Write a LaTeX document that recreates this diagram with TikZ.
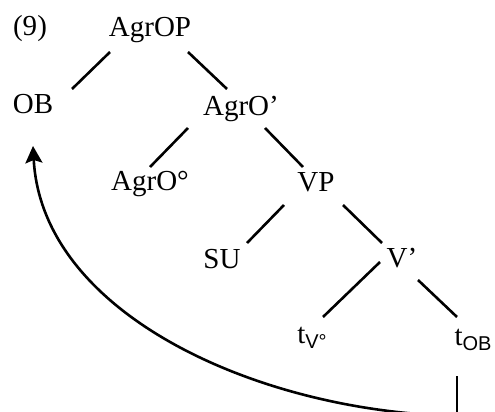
\documentclass[tikz,border=0pt]{standalone}
\usepackage{fontspec}
\setmainfont{Liberation Serif}
\setsansfont{Liberation Sans}
\usetikzlibrary{arrows.meta, calc}
\newcommand{\tsub}[1]{\raisebox{-5pt}{\sffamily\fontsize{20}{20}\selectfont #1}}

\begin{document}
\begin{tikzpicture}[
  x=1pt, y=-1pt,
  lbl/.style={inner sep=0pt, anchor=base, font=\fontsize{29}{31}\selectfont},
  branch/.style={line width=2.6pt},
  move/.style={-{Stealth[length=17pt,width=17pt,inset=3pt]}, line width=2.6pt}
]
\useasboundingbox (0,0) rectangle (495,412);
% tree labels
\node[lbl] (ex) at (30,36) {(9)};
\node[lbl] (agrop) at (150,37) {AgrOP};
\node[lbl] (ob) at (33,113) {OB};
\node[lbl] (agrobar) at (241,115) {AgrO’};
\node[lbl] (agrohead) at (150,190) {AgrO°};
\node[lbl] (vp) at (316,191) {VP};
\node[lbl] (su) at (222,268) {SU};
\node[lbl] (vbar) at (402,267) {V’};
\node[lbl] (tv) at (312,343) {t\tsub{V°}};
\node[lbl] (tob) at (473,345) {t\tsub{OB}};
\coordinate (tbot) at ($(tob.base)+(-16,71)$);
% branches
\draw[branch] ($(agrop.base)+(-40,15)$) -- ($(ob.base)+(39,-24)$);
\draw[branch] ($(agrop.base)+(38,15)$) -- ($(agrobar.base)+(-14,-26)$);
\draw[branch] ($(agrobar.base)+(-53,13)$) -- ($(agrohead.base)+(0,-23)$);
\draw[branch] ($(agrobar.base)+(24,13)$) -- ($(vp.base)+(-13,-24)$);
\draw[branch] ($(vp.base)+(-32,14)$) -- ($(su.base)+(25,-25)$);
\draw[branch] ($(vp.base)+(27,14)$) -- ($(vbar.base)+(-20,-24)$);
\draw[branch] ($(vbar.base)+(-22,-5)$) -- ($(tv.base)+(11,-26)$);
\draw[branch] ($(vbar.base)+(16,13)$) -- ($(tob.base)+(-16,-28)$);
% movement of the object
\draw[branch] ($(tob.base)+(-16,31)$) -- (tbot);
\draw[move] (tbot) .. controls +(-197,-4) and +(9,169) .. ($(ob.base)+(0,33)$);
\end{tikzpicture}
\end{document}
